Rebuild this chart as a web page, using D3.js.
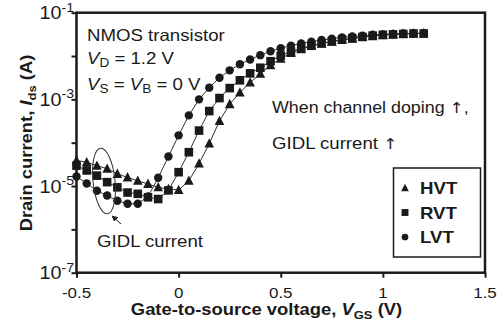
<!DOCTYPE html>
<html><head><meta charset="utf-8">
<script src="https://cdn.jsdelivr.net/npm/d3@7"></script>
<style>
html,body{margin:0;padding:0;background:#fff;}
svg{display:block;}
text{font-family:"Liberation Sans",Arial,Helvetica,sans-serif;fill:#1a1a1a;}
</style></head>
<body>
<svg id="chart" width="500" height="331"></svg>
<script>
// ---- data ----
const vgs = [-0.5,-0.45,-0.4,-0.35,-0.3,-0.25,-0.2,-0.15,-0.1,-0.05,0,0.05,0.1,0.15,0.2,0.25,0.3,0.35,0.4,0.45,0.5,0.55,0.6,0.65,0.7,0.75,0.8,0.85,0.9,0.95,1.0,1.05,1.1,1.15,1.2];
// log10 of drain current (A)
const hvtLog = [-4.41,-4.45,-4.53,-4.60,-4.72,-4.80,-4.88,-4.95,-5.03,-5.07,-5.09,-4.88,-4.48,-4.02,-3.50,-3.11,-2.84,-2.61,-2.41,-2.21,-2.06,-1.93,-1.84,-1.77,-1.71,-1.67,-1.63,-1.60,-1.56,-1.54,-1.52,-1.50,-1.49,-1.48,-1.48];
const rvtLog = [-4.53,-4.64,-4.76,-4.91,-5.03,-5.15,-5.18,-5.26,-5.30,-5.10,-4.68,-4.22,-3.72,-3.27,-2.97,-2.74,-2.56,-2.40,-2.27,-2.12,-1.99,-1.90,-1.82,-1.76,-1.71,-1.66,-1.62,-1.59,-1.56,-1.53,-1.51,-1.50,-1.49,-1.48,-1.48];
const lvtLog = [-4.78,-4.94,-5.11,-5.22,-5.34,-5.41,-5.41,-5.24,-4.81,-4.32,-3.83,-3.37,-3.00,-2.73,-2.50,-2.33,-2.19,-2.08,-1.98,-1.89,-1.82,-1.76,-1.71,-1.67,-1.63,-1.60,-1.57,-1.55,-1.53,-1.51,-1.50,-1.49,-1.48,-1.48,-1.47];
const seriesNames = ["HVT","RVT","LVT"];
const xTicks = [-0.5,0,0.5,1,1.5];
const xTickLabels = ["-0.5","0","0.5","1","1.5"];
const yTickExps = [-1,-2,-3,-4,-5,-6,-7];
const yLabelExps = [-1,-3,-5,-7];

// ---- layout ----
const ink = "#1a1a1a";
const SX = 1.13; // horizontal text stretch of the reference
const svg = d3.select("#chart");
const L = 76.5, R = 485, T = 12.7, B = 272.7;
const x = d3.scaleLinear().domain([-0.5,1.5]).range([L,R]);
const y = d3.scaleLog().domain([1e-7,1e-1]).range([B,T]);

const mk = (logs) => vgs.map((v,i)=>({v, id: Math.pow(10, logs[i])}));
const series = [
  {name:"HVT", shape:"tri", data: mk(hvtLog)},
  {name:"LVT", shape:"circ", data: mk(lvtLog)},
  {name:"RVT", shape:"sq", data: mk(rvtLog)}
];

function stretchText(g, tx, ty, opts={}) {
  return g.append("text")
    .attr("transform", `translate(${tx},${ty}) scale(${SX},1)`)
    .attr("font-size", opts.size || 16)
    .attr("font-weight", opts.bold ? "bold" : "normal")
    .attr("text-anchor", opts.anchor || "start");
}

// axes
const xAxis = d3.axisBottom(x).tickValues(xTicks).tickSize(5).tickSizeOuter(0).tickFormat("");
const gx = svg.append("g").attr("transform",`translate(0,${B})`).call(xAxis);
const yAxis = d3.axisLeft(y).tickValues(yTickExps.map(e=>Math.pow(10,e))).tickSize(5).tickSizeOuter(0).tickFormat("");
const gy = svg.append("g").attr("transform",`translate(${L},0)`).call(yAxis);
[gx,gy].forEach(g=>{
  g.select(".domain").remove();
  g.selectAll(".tick line").attr("stroke",ink).attr("stroke-width",2);
});
// x tick labels
xTicks.forEach((t,i)=>{
  stretchText(svg, x(t), 297.5, {size:15, anchor:"middle"}).text(xTickLabels[i]);
});
// y tick labels
yLabelExps.forEach(e=>{
  const t = stretchText(svg, L-2.5, y(Math.pow(10,e))+6.5, {size:17.5, anchor:"end"});
  t.append("tspan").text("10");
  t.append("tspan").attr("font-size",12.5).attr("dy",-7.5).text(String(e));
});

// frame
svg.append("rect").attr("x",L).attr("y",T).attr("width",R-L).attr("height",B-T)
  .attr("fill","none").attr("stroke",ink).attr("stroke-width",2.5);

// lines
const line = d3.line().x(d=>x(d.v)).y(d=>y(d.id));
series.forEach(s=>{
  svg.append("path").datum(s.data).attr("d",line)
    .attr("fill","none").attr("stroke","#333").attr("stroke-width",1);
});
// markers
const triPath = (cx,cy,s)=>`M${cx},${cy-s*0.55}L${cx+s/2},${cy+s*0.42}L${cx-s/2},${cy+s*0.42}Z`;
function drawMarker(g, shape, cx, cy, scale=1){
  if(shape==="circ") g.append("circle").attr("cx",cx).attr("cy",cy).attr("r",4.2*scale).attr("fill",ink);
  else if(shape==="sq") g.append("rect").attr("x",cx-4.3*scale).attr("y",cy-4.3*scale).attr("width",8.6*scale).attr("height",8.6*scale).attr("fill",ink);
  else g.append("path").attr("d",triPath(cx,cy,9.6*scale)).attr("fill",ink);
}
series.forEach(s=>{
  const g = svg.append("g");
  s.data.forEach(d=>drawMarker(g, s.shape, x(d.v), y(d.id)));
});

// annotations
stretchText(svg, 87, 40.5, {size:16.5}).text("NMOS transistor");
{
  const t = stretchText(svg, 87, 63.5, {size:16.5});
  t.append("tspan").attr("font-style","italic").text("V");
  t.append("tspan").attr("font-size",12).attr("dy",3.5).text("D");
  t.append("tspan").attr("dy",-3.5).text(" = 1.2 V");
}
{
  const t = stretchText(svg, 87, 89.5, {size:16.5});
  t.append("tspan").attr("font-style","italic").text("V");
  t.append("tspan").attr("font-size",12).attr("dy",3.5).text("S");
  t.append("tspan").attr("dy",-3.5).text(" = ");
  t.append("tspan").attr("font-style","italic").text("V");
  t.append("tspan").attr("font-size",12).attr("dy",3.5).text("B");
  t.append("tspan").attr("dy",-3.5).text(" = 0 V");
}
{
  const t = stretchText(svg, 272, 113, {size:15.8});
  t.append("tspan").text("When channel doping ");
  t.append("tspan").attr("font-family","DejaVu Sans").attr("font-size",15).text("\u2191");
  t.append("tspan").text(",");
}
{
  const t = stretchText(svg, 272, 149, {size:16.5});
  t.append("tspan").text("GIDL current ");
  t.append("tspan").attr("font-family","DejaVu Sans").attr("font-size",15).text("\u2191");
}
stretchText(svg, 97, 247, {size:16.5}).text("GIDL current");

// ellipse and arrow
svg.append("ellipse").attr("cx",104).attr("cy",181).attr("rx",11).attr("ry",33)
  .attr("transform","rotate(-6,104,181)")
  .attr("fill","none").attr("stroke","#333").attr("stroke-width",1);
svg.append("defs").append("marker").attr("id","ah").attr("viewBox","0 0 10 10")
  .attr("refX",9).attr("refY",5).attr("markerWidth",6).attr("markerHeight",6).attr("orient","auto")
  .append("path").attr("d","M0,0L10,5L0,10Z").attr("fill",ink);
svg.append("line").attr("x1",121).attr("y1",224).attr("x2",112).attr("y2",216)
  .attr("stroke",ink).attr("stroke-width",1).attr("marker-end","url(#ah)");

// legend
const lg = svg.append("g");
lg.append("rect").attr("x",393.5).attr("y",168).attr("width",87).attr("height",89)
  .attr("fill","#fff").attr("stroke",ink).attr("stroke-width",1.5);
const legShapes = {HVT:"tri", RVT:"sq", LVT:"circ"};
seriesNames.forEach((n,i)=>{
  const cy = 188 + i*24.5;
  drawMarker(lg, legShapes[n], 405, cy, 0.8);
  stretchText(lg, 420, cy+6, {size:16.5, bold:true}).text(n);
});

// axis titles
{
  const t = stretchText(svg, 266.5, 315, {size:16.3, bold:true, anchor:"middle"});
  t.append("tspan").text("Gate-to-source voltage, ");
  t.append("tspan").attr("font-style","italic").text("V");
  t.append("tspan").attr("font-size",11.5).attr("dy",3.5).text("GS");
  t.append("tspan").attr("dy",-3.5).text(" (V)");
}
{
  const t = svg.append("text")
    .attr("transform",`translate(32,143) rotate(-90) scale(${SX},1)`)
    .attr("font-size",16.3).attr("font-weight","bold").attr("text-anchor","middle");
  t.append("tspan").text("Drain current, ");
  t.append("tspan").attr("font-style","italic").text("I");
  t.append("tspan").attr("font-size",11.5).attr("dy",3.5).text("ds");
  t.append("tspan").attr("dy",-3.5).text(" (A)");
}
</script>
</body></html>
